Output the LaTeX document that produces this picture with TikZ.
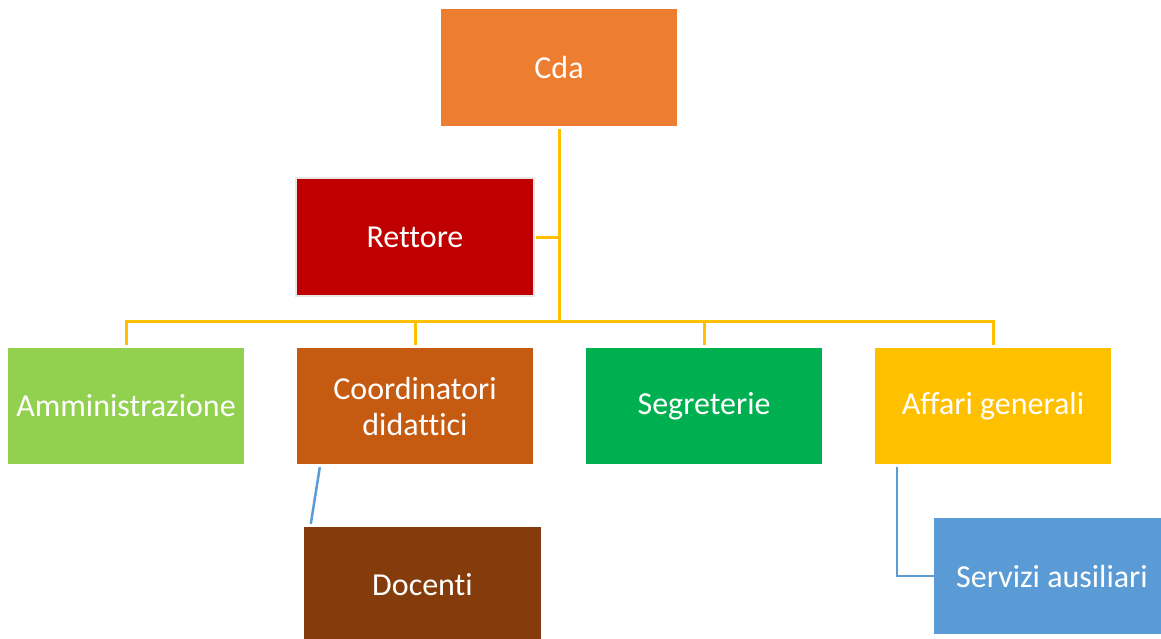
\documentclass[tikz,border=0pt]{standalone}
\usepackage{fontspec}
\setmainfont{Carlito}[Ligatures=NoCommon]
\definecolor{cdaC}{HTML}{ED7D31}
\definecolor{retC}{HTML}{C00000}
\definecolor{ammC}{HTML}{92D050}
\definecolor{coordC}{HTML}{C55A11}
\definecolor{segC}{HTML}{00B050}
\definecolor{affC}{HTML}{FFC000}
\definecolor{docC}{HTML}{843C0C}
\definecolor{servC}{HTML}{5B9BD5}
\definecolor{yelC}{HTML}{FFC000}
\definecolor{bordC}{HTML}{E6E6E6}
\tikzset{
  box/.style={rectangle, minimum width=236pt, minimum height=116pt, inner sep=0pt,
    text=white, align=center, font=\fontsize{32}{36}\selectfont},
  yconn/.style={draw=yelC, line width=3pt},
  bconn/.style={draw=servC, line width=2.5pt},
}
\begin{document}
\begin{tikzpicture}[x=1pt,y=-1pt]
\useasboundingbox (0,0) rectangle (1161,638);
\node[box, fill=cdaC, minimum height=117pt] (cda) at (559,67.5) {Cda};
\node[box, fill=retC, draw=bordC, line width=2.5pt, minimum width=238pt, minimum height=118pt] (rett) at (415,237) {Rettore};
\node[box, fill=ammC] (amm) at (126,406) {Amministrazione};
\node[box, fill=coordC] (coord) at (415,406) {Coordinatori\\didattici};
\node[box, fill=segC] (seg) at (704,406) {Segreterie};
\node[box, fill=affC] (aff) at (993,406) {Affari generali};
\node[box, fill=docC, minimum width=237pt] (doc) at (422.5,585) {Docenti};
\node[box, fill=servC] (serv) at (1052,576) {Servizi ausiliari};
\coordinate (bus) at (559,321);
\draw[yconn] ([yshift=-3pt]cda.south) -- (bus);
\draw[yconn] ([yshift=3pt]amm.north) -- (amm.north |- bus) -- (aff.north |- bus) -- ([yshift=3pt]aff.north);
\draw[yconn] ([yshift=3pt]coord.north) -- (coord.north |- bus);
\draw[yconn] ([yshift=3pt]seg.north) -- (seg.north |- bus);
\draw[yconn] ([xshift=1pt]rett.east) -- (rett.east -| bus);
\draw[bconn] ([xshift=23pt,yshift=-3pt]coord.south west) -- ([xshift=7pt,yshift=3pt]doc.north west);
\draw[bconn] ([xshift=22pt,yshift=-3pt]aff.south west) |- (serv.west);
\end{tikzpicture}
\end{document}
